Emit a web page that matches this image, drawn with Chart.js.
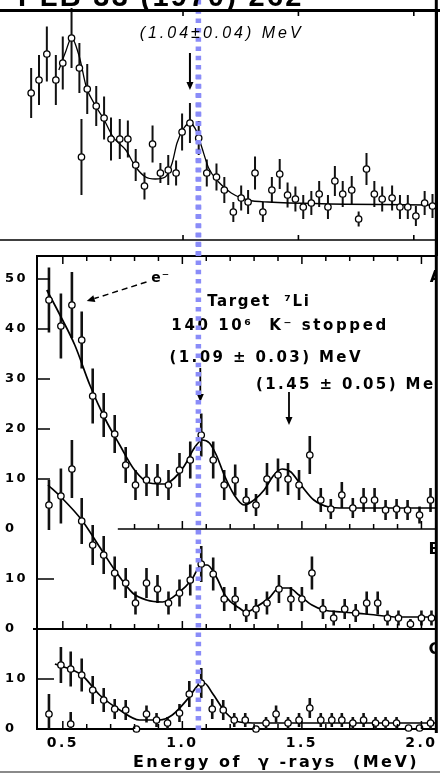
<!DOCTYPE html>
<html>
<head>
<meta charset="utf-8">
<script src="https://cdn.jsdelivr.net/npm/chart.js@4.4.0/dist/chart.umd.min.js"></script>
<style>
  html, body { margin: 0; padding: 0; background: #fff; }
  #wrap { position: relative; width: 440px; height: 774px; overflow: hidden; }
  canvas { position: absolute; left: 0; top: 0; }
</style>
</head>
<body>
<div id="wrap">
  <canvas id="mainChart" width="440" height="774"></canvas>
  <canvas id="topChart" width="440" height="256"></canvas>
</div>
<script>
// gamma energy marked by the dotted overlay line (MeV)
const markerEnergy = 1.067

// upper inset spectrum (counts, arbitrary units)
const topEnergy = [0.342,0.376,0.410,0.449,0.479,0.517,0.551,0.560,0.585,0.624,0.658,0.688,0.726,0.761,0.795,0.833,0.868,0.902,0.936,0.970,0.996,1.030,1.068,1.103,1.145,1.179,1.218,1.252,1.282,1.312,1.346,1.385,1.419,1.453,1.487,1.521,1.556,1.590,1.628,1.658,1.692,1.731,1.761,1.795,1.829,1.863,1.906,1.940,1.974,2.009,2.047,2.081]
const topCounts = [29.4,32,37.2,32,35.4,40.4,34.4,16.6,30.2,26.8,24.4,20.2,20.2,20.2,15,10.8,19.2,13.4,14,13.4,21.6,23.4,20.4,13.4,12.6,10,5.6,8.4,7.6,13.4,5.6,10,13.2,9,8.2,6.6,7.4,9.2,6.6,11.8,9.2,10,4.2,14.2,9.2,8.2,8.4,6.6,6.6,4.8,7.4,6.8]
const topErr = [5,5,5.5,5,5.3,6,5,7.6,5,4,4.3,4.3,4,3.7,3.2,2.7,3.7,2,3,2.5,3.7,4,3.4,2.7,2.7,2.6,2,2.5,2.4,3.3,2,2.6,3,2.5,2.5,2.4,2.4,2.6,2.4,3,2.6,2.8,1.5,3.2,2.6,2.5,2.5,2.4,2.4,2,2.4,2.4]
const topFitEnergy = [0.462,0.491,0.517,0.551,0.581,0.624,0.654,0.697,0.752,0.795,0.838,0.880,0.923,0.953,0.974,1.004,1.030,1.060,1.081,1.111,1.154,1.209,1.282,1.368,2.077]
const topFitCounts = [34,37.6,40.4,36.6,30.6,26.6,24.4,20.6,18,14.6,12.6,12.2,12.6,15.4,19.4,22.4,23.4,21.6,18.6,14.4,11.6,9.4,8,7.6,7]
const topTicks = [1.0, 1.5, 2.0]

// spectrum A
const aEnergy = [0.442,0.492,0.538,0.579,0.625,0.671,0.717,0.763,0.804,0.850,0.896,0.942,0.988,1.033,1.079,1.129,1.175,1.221,1.267,1.308,1.354,1.400,1.442,1.488,1.533,1.579,1.621,1.667,1.713,1.758,1.804,1.850,1.896,1.942,1.992,2.038]
const aCounts = [45.8,40.6,44.8,37.8,26.6,22.8,19,12.8,8.8,9.8,9.8,8.8,11.8,13.8,18.8,13.8,8.8,9.8,5.8,4.8,10,10.8,10,8.8,14.8,5.8,4,6.8,4.2,5.8,5.8,3.8,4,3.8,2.8,5.8]
const aErr = [6.5,6.5,6.6,5.7,5.5,4.4,3.8,3.6,3,3.2,3.2,3,3.4,3.7,4.3,3.7,3,3.1,2.4,2.2,3.2,3.3,3.2,3,3.8,2.4,2,2.6,2,2.4,2.4,2,2,2,1.7,2.4]
const aFitEnergy = [0.433,0.488,0.550,0.613,0.675,0.738,0.800,0.863,0.925,0.967,1.008,1.050,1.083,1.113,1.142,1.175,1.217,1.258,1.300,1.342,1.383,1.417,1.454,1.496,1.550,1.613,1.675,2.058]
const aFitCounts = [47.8,42.8,36.8,28.8,22.2,16.8,11.8,9.2,9,10.2,12.6,16.2,17.8,17.2,14.8,10.8,6.8,4.8,5.8,7.8,10.8,12,11.4,8.8,5.8,4.4,4.2,4.2]
const aTickValues = [0, 10, 20, 30, 40, 50]
const aBaselineStart = 0.73

// spectrum B
const bEnergy = [0.442,0.492,0.538,0.579,0.625,0.671,0.717,0.763,0.804,0.850,0.896,0.942,0.988,1.033,1.079,1.129,1.175,1.221,1.267,1.308,1.354,1.404,1.454,1.500,1.542,1.588,1.633,1.679,1.725,1.771,1.817,1.858,1.904,1.954,2.000,2.042]
const bCounts = [24.8,26.6,32,21.6,16.8,14.8,11.2,9.2,5.2,9.2,8,5.2,7.2,9.8,13,11,6,6,3.2,4,5.2,8,6,6,11.2,4,2.2,4,3.2,5.2,5.2,2.2,2.2,1,2.2,2.2]
const bErr = [5,5.5,5.8,4.6,4,3.8,3.3,3,2.3,3,2.8,2.3,2.7,3.1,3.6,3.3,2.4,2.4,1.8,2,2.3,2.8,2.4,2.4,3.3,2,1.5,2,1.8,2.3,2.3,1.5,1.5,1,1.5,1.5]
const bFitEnergy = [0.438,0.492,0.579,0.654,0.717,0.792,0.850,0.917,0.988,1.038,1.079,1.104,1.142,1.183,1.238,1.267,1.308,1.363,1.404,1.446,1.488,1.542,1.592,1.667,1.767,1.904,2.058]
const bFitCounts = [28.8,26.4,21.8,16.4,11.8,7.2,5.8,5.4,7.4,9.8,12.8,12.8,10.4,6.4,4.2,3.4,4.4,6.2,8.2,8.2,6.8,4.8,3.8,3.4,3,2.4,2.4]
const bTickValues = [0, 10]

// spectrum C
const cEnergy = [0.442,0.492,0.533,0.533,0.579,0.625,0.671,0.717,0.763,0.808,0.850,0.892,0.938,0.988,1.029,1.079,1.125,1.171,1.217,1.263,1.308,1.350,1.392,1.442,1.488,1.533,1.579,1.625,1.667,1.713,1.758,1.808,1.850,1.896,1.946,1.992,2.038]
const cCounts = [3,12.8,12,1,10.8,7.8,5.8,4,3.8,0,3,1.8,1.2,3.2,7,9.2,4,3.8,1.8,1.8,0,1.2,3,1.2,1.8,4.2,1.8,1.8,1.8,1.2,1.8,1.2,1.2,1.2,0.2,0.2,1.2]
const cErr = [4,3.6,3.5,2.4,3.3,2.8,2.4,2,2,0,1.7,1.4,1.2,1.8,2.6,3,2,2,1.4,1.4,0,1.2,1.7,1.2,1.4,2,1.4,1.4,1.4,1.2,1.4,1.2,1.2,1.2,0.6,0.6,1.2]
const cFitEnergy = [0.467,0.579,0.654,0.738,0.821,0.904,0.958,1.029,1.071,1.092,1.125,1.183,1.238,1.321,2.058]
const cFitCounts = [13,10.8,6.8,3.8,1.8,1.8,2.8,6.4,9,9.2,7.2,3.2,1.4,1.2,1.2]
const cTickValues = [0, 10]

// energy axis
const xTickValues = [0.5, 1.0, 1.5, 2.0]
const xMinorTicks = [0.5,0.6,0.7,0.8,0.9,1.0,1.1,1.2,1.3,1.4,1.5,1.6,1.7,1.8,1.9,2.0]

const FONT = '"DejaVu Sans", sans-serif'

const pts = (xs, ys) => xs.map((x, i) => ({x: x, y: ys[i]}))

function pointSet(xs, ys, errs, axis, barWidth) {
  return {
    data: pts(xs, ys),
    errors: errs,
    errorWidth: barWidth,
    yAxisID: axis,
    showLine: false,
    clip: false,
    pointStyle: 'circle',
    pointRadius: 3.2,
    pointHoverRadius: 3.2,
    pointBackgroundColor: '#fff',
    pointBorderColor: '#000',
    pointBorderWidth: 1.3,
  }
}

function fitSet(xs, ys, axis, width) {
  return {
    data: pts(xs, ys),
    yAxisID: axis,
    showLine: true,
    clip: false,
    pointRadius: 0,
    borderColor: '#000',
    borderWidth: width,
    fill: false,
    cubicInterpolationMode: 'monotone',
  }
}

// vertical error bars, drawn under the markers
const errorBars = {
  id: 'errorBars',
  beforeDatasetsDraw(chart) {
    const ctx = chart.ctx
    const ca = chart.chartArea
    ctx.save()
    ctx.beginPath()
    ctx.rect(ca.left, ca.top - 4, ca.right - ca.left, ca.bottom - ca.top + 4)
    ctx.clip()
    ctx.strokeStyle = '#111'
    chart.data.datasets.forEach((ds, i) => {
      if (!ds.errors) return
      const meta = chart.getDatasetMeta(i)
      const xs = chart.scales[meta.xAxisID]
      const ys = chart.scales[meta.yAxisID]
      ctx.lineWidth = ds.errorWidth
      ds.data.forEach((p, j) => {
        const e = ds.errors[j]
        if (!e) return
        const px = xs.getPixelForValue(p.x)
        ctx.beginPath()
        ctx.moveTo(px, ys.getPixelForValue(p.y - e))
        ctx.lineTo(px, ys.getPixelForValue(p.y + e))
        ctx.stroke()
      })
    })
    ctx.restore()
  }
}

function seg(ctx, x1, y1, x2, y2, w) {
  ctx.lineWidth = w
  ctx.beginPath()
  ctx.moveTo(x1, y1)
  ctx.lineTo(x2, y2)
  ctx.stroke()
}

// arrow with a filled head at (x2, y2)
function arrow(ctx, x1, y1, x2, y2, w, dash) {
  const ang = Math.atan2(y2 - y1, x2 - x1)
  const hl = 8, hw = 3.5
  const bx = x2 - hl * Math.cos(ang), by = y2 - hl * Math.sin(ang)
  ctx.save()
  if (dash) ctx.setLineDash(dash)
  seg(ctx, x1, y1, bx, by, w)
  ctx.restore()
  ctx.beginPath()
  ctx.moveTo(x2, y2)
  ctx.lineTo(bx + hw * Math.sin(ang), by - hw * Math.cos(ang))
  ctx.lineTo(bx - hw * Math.sin(ang), by + hw * Math.cos(ang))
  ctx.closePath()
  ctx.fill()
}

function text(ctx, str, x, y, font, spacing, align) {
  ctx.font = font
  ctx.letterSpacing = spacing + 'px'
  ctx.textAlign = align || 'left'
  ctx.textBaseline = 'middle'
  ctx.fillText(str, x, y)
}

const markerColor = 'rgb(138,140,248)'

// ---------- main chart: spectra A, B, C ----------
const mainDecor = {
  id: 'mainDecor',
  beforeDraw(chart) {
    // the scanned lettering is widely spaced
    chart.ctx.letterSpacing = '2.5px'
  },
  afterDraw(chart) {
    const ctx = chart.ctx
    const ca = chart.chartArea
    const {x, yA, yB, yC} = chart.scales
    ctx.save()
    ctx.strokeStyle = '#000'
    ctx.fillStyle = '#000'

    // frame pieces
    seg(ctx, ca.left - 1, yA.top, ca.right, yA.top, 2)
    seg(ctx, x.getPixelForValue(aBaselineStart), yA.bottom, ca.right, yA.bottom, 1.5)
    seg(ctx, ca.left - 4, yB.bottom, ca.right, yB.bottom, 2)
    seg(ctx, ca.right + 1, 0, ca.right + 1, ca.bottom + 4, 3)

    // inward energy ticks
    xMinorTicks.forEach(v => {
      const px = x.getPixelForValue(v)
      const len = xTickValues.includes(v) ? 8 : 5
      seg(ctx, px, yA.top, px, yA.top + len, 1.5)
      if (v > aBaselineStart) seg(ctx, px, yA.bottom, px, yA.bottom - len, 1.5)
      seg(ctx, px, yB.bottom, px, yB.bottom - len, 1.5)
      seg(ctx, px, yC.bottom, px, yC.bottom - len, 1.5)
    })
    // inward count ticks
    aTickValues.slice(1).forEach(v => seg(ctx, ca.left, yA.getPixelForValue(v), ca.left + 13, yA.getPixelForValue(v), 1.5))
    bTickValues.slice(1).forEach(v => seg(ctx, ca.left, yB.getPixelForValue(v), ca.left + 17, yB.getPixelForValue(v), 1.5))
    cTickValues.slice(1).forEach(v => seg(ctx, ca.left, yC.getPixelForValue(v), ca.left + 17, yC.getPixelForValue(v), 1.5))

    // annotations of spectrum A
    const X = v => x.getPixelForValue(v)
    const YA = v => yA.getPixelForValue(v)
    const bold = size => 'bold ' + size + 'px ' + FONT
    text(ctx, 'e⁻', X(0.87), YA(50.2), bold(14), 1)
    arrow(ctx, X(0.85), YA(49.4), X(0.6), YA(45.6), 1.5, [6, 4])
    text(ctx, 'Target  ⁷Li', X(1.104), YA(45.4), bold(15), 1.6)
    text(ctx, '140 10⁶  K⁻ stopped', X(0.954), YA(40.6), bold(15), 2.6)
    text(ctx, '(1.09 ± 0.03) MeV', X(0.946), YA(34.2), bold(15), 2.4)
    arrow(ctx, X(1.075), YA(32.2), X(1.075), YA(25.4), 1.8)
    ctx.save()
    ctx.beginPath()
    ctx.rect(ca.left, 0, ca.right - ca.left, chart.height)
    ctx.clip()
    text(ctx, '(1.45 ± 0.05) MeV', X(1.308), YA(28.8), bold(15), 2.4)
    text(ctx, 'A', X(2.035), YA(50.2), bold(16), 0)
    text(ctx, 'B', X(2.03), yB.getPixelForValue(15.8), bold(16), 0)
    text(ctx, 'C', X(2.03), yC.getPixelForValue(15.8), bold(16), 0)
    ctx.restore()
    arrow(ctx, X(1.446), YA(27.4), X(1.446), YA(20.8), 1.8)

    // dotted marker line
    ctx.strokeStyle = markerColor
    ctx.setLineDash([4.5, 4.8])
    seg(ctx, X(markerEnergy), 0, X(markerEnergy), yC.getPixelForValue(-0.6), 5.5)
    ctx.setLineDash([])

    // scan edge at the bottom
    ctx.strokeStyle = '#8a8a8a'
    seg(ctx, 0, chart.height - 2, chart.width, chart.height - 2, 2)
    ctx.restore()
    ctx.letterSpacing = '0px'
  }
}

const yAxis = (ticks, min, max, stackWeight, weight) => ({
  type: 'linear',
  position: 'left',
  stack: 'panels',
  stackWeight: stackWeight,
  weight: weight,
  min: min,
  max: max,
  afterBuildTicks: s => { s.ticks = ticks.map(v => ({value: v})) },
  afterFit: s => { s.width = 32 },
  grid: {display: false, drawTicks: false},
  border: {display: true, color: '#000', width: 2},
  ticks: {crossAlign: 'far', padding: 0, color: '#000', font: {family: FONT, size: 13, weight: 'bold'}},
})

new Chart(document.getElementById('mainChart'), {
  type: 'scatter',
  data: {
    datasets: [
      pointSet(aEnergy, aCounts, aErr, 'yA', 2.6),
      pointSet(bEnergy, bCounts, bErr, 'yB', 2.6),
      pointSet(cEnergy, cCounts, cErr, 'yC', 2.6),
      fitSet(aFitEnergy, aFitCounts, 'yA', 1.7),
      fitSet(bFitEnergy, bFitCounts, 'yB', 1.7),
      fitSet(cFitEnergy, cFitCounts, 'yC', 1.7),
    ]
  },
  options: {
    responsive: false,
    animation: false,
    events: [],
    layout: {padding: {left: 5, right: 3, top: 256, bottom: 0}},
    plugins: {legend: {display: false}, tooltip: {enabled: false}},
    scales: {
      x: {
        type: 'linear',
        min: 0.392,
        max: 2.058,
        afterBuildTicks: s => { s.ticks = xTickValues.map(v => ({value: v})) },
        afterFit: s => { s.height = 45 },
        grid: {display: false, drawTicks: false},
        border: {display: true, color: '#000', width: 2},
        ticks: {padding: 6, color: '#000', font: {family: FONT, size: 14, weight: 'bold'}, callback: v => v.toFixed(1)},
        title: {
          display: true,
          align: 'end',
          text: 'Energy of  γ -rays  (MeV)  ',
          color: '#000',
          font: {family: FONT, size: 16, weight: 'bold'},
          padding: {top: 0, bottom: 2},
        },
      },
      yA: yAxis(aTickValues, 0, 54.6, 273, 3),
      yB: yAxis(bTickValues, 0, 20, 100, 2),
      yC: yAxis(cTickValues, 0, 20, 100, 1),
    }
  },
  plugins: [errorBars, mainDecor]
})

// ---------- upper inset ----------
const topDecor = {
  id: 'topDecor',
  afterDraw(chart) {
    const ctx = chart.ctx
    const ca = chart.chartArea
    const {x, y} = chart.scales
    ctx.save()
    ctx.strokeStyle = '#000'
    ctx.fillStyle = '#000'

    // journal reference, cut by the top of the scan
    ctx.font = 'bold 29px "Liberation Sans", sans-serif'
    ctx.letterSpacing = '2.3px'
    ctx.textAlign = 'left'
    ctx.textBaseline = 'alphabetic'
    ctx.fillText('PLB 33 (1970) 262', 18, 6)

    seg(ctx, 0, 10.5, chart.width, 10.5, 3)
    seg(ctx, 0, ca.bottom, ca.right, ca.bottom, 1.6)
    seg(ctx, ca.right + 1, 9, ca.right + 1, chart.height, 3)
    topTicks.forEach(v => {
      const px = x.getPixelForValue(v)
      seg(ctx, px, ca.top, px, ca.top + 4, 1.6)
      seg(ctx, px, ca.bottom, px, ca.bottom - 5, 1.6)
    })

    text(ctx, '(1.04±0.04) MeV', x.getPixelForValue(0.812), y.getPixelForValue(41.2), 'italic 16px "Liberation Sans", sans-serif', 3)
    arrow(ctx, x.getPixelForValue(1.03), y.getPixelForValue(37.4), x.getPixelForValue(1.03), y.getPixelForValue(30), 2)

    ctx.strokeStyle = markerColor
    ctx.setLineDash([4.5, 4.8])
    seg(ctx, x.getPixelForValue(markerEnergy), y.getPixelForValue(33), x.getPixelForValue(markerEnergy), chart.height, 5.5)
    ctx.restore()
    ctx.letterSpacing = '0px'
  }
}

new Chart(document.getElementById('topChart'), {
  type: 'scatter',
  data: {
    datasets: [
      pointSet(topEnergy, topCounts, topErr, 'y', 2),
      fitSet(topFitEnergy, topFitCounts, 'y', 1.3),
    ]
  },
  options: {
    responsive: false,
    animation: false,
    events: [],
    layout: {padding: {left: 0, right: 3, top: 12, bottom: 16}},
    plugins: {legend: {display: false}, tooltip: {enabled: false}},
    scales: {
      x: {type: 'linear', min: 0.2265, max: 2.094, display: false},
      y: {type: 'linear', min: 0, max: 45.6, display: false},
    }
  },
  plugins: [errorBars, topDecor]
})
</script>
</body>
</html>
